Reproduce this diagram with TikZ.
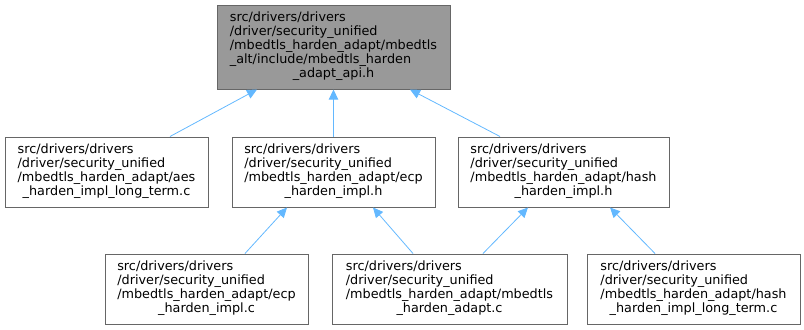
\documentclass[tikz,border=0pt]{standalone}
\usepackage{fontspec}
\setmainfont{DejaVu Sans}
\usetikzlibrary{positioning,arrows.meta,calc}
\definecolor{incblue}{HTML}{63B8FF}
\definecolor{boxgray}{HTML}{666666}
\definecolor{topfill}{HTML}{999999}

\newcommand{\doxlabel}[2]{\begin{tabular}{@{}l@{}}#1\\\multicolumn{1}{@{}c@{}}{#2}\end{tabular}}

\begin{document}
\begin{tikzpicture}[x=0.75pt, y=-0.75pt,
    every node/.style={font=\fontsize{9.6}{10.5}\selectfont},
    filebox/.style={draw=boxgray, line width=0.75pt, inner sep=0pt,
      minimum height=52.5pt},
    incl/.style={draw=incblue, line width=0.6pt,
      -{Triangle[length=7.5pt,width=7pt]}}]
  \useasboundingbox (0,0) rectangle (804,329);

  % header file at the top
  \node[filebox, fill=topfill, minimum width=174.75pt, minimum height=63pt]
    (api) at (333.5,47) {\doxlabel{src/drivers/drivers\\/driver/security\_unified\\/mbedtls\_harden\_adapt/mbedtls\\\_alt/include/mbedtls\_harden}{\_adapt\_api.h}};

  % second row
  \node[filebox, minimum width=152.25pt] (aes) at (106.5,172)
    {\doxlabel{src/drivers/drivers\\/driver/security\_unified\\/mbedtls\_harden\_adapt/aes}{\_harden\_impl\_long\_term.c}};
  \node[filebox, minimum width=152.25pt] (ecph) at (333.5,172)
    {\doxlabel{src/drivers/drivers\\/driver/security\_unified\\/mbedtls\_harden\_adapt/ecp}{\_harden\_impl.h}};
  \node[filebox, minimum width=158.25pt] (hashh) at (563.5,172)
    {\doxlabel{src/drivers/drivers\\/driver/security\_unified\\/mbedtls\_harden\_adapt/hash}{\_harden\_impl.h}};

  % third row
  \node[filebox, minimum width=152.25pt] (ecpc) at (206.5,289)
    {\doxlabel{src/drivers/drivers\\/driver/security\_unified\\/mbedtls\_harden\_adapt/ecp}{\_harden\_impl.c}};
  \node[filebox, minimum width=176.25pt] (adaptc) at (449.5,289)
    {\doxlabel{src/drivers/drivers\\/driver/security\_unified\\/mbedtls\_harden\_adapt/mbedtls}{\_harden\_adapt.c}};
  \node[filebox, minimum width=159.75pt] (hashl) at (693.5,289)
    {\doxlabel{src/drivers/drivers\\/driver/security\_unified\\/mbedtls\_harden\_adapt/hash}{\_harden\_impl\_long\_term.c}};

  \draw[incl] ($(aes.north)+(63.5,0)$) -- ($(api.south)+(-76.5,0)$);
  \draw[incl] (ecph.north) -- (api.south);
  \draw[incl] ($(hashh.north)+(-63.5,0)$) -- ($(api.south)+(76.5,0)$);
  \draw[incl] ($(ecpc.north)+(38.5,0)$) -- ($(ecph.south)+(-46.5,0)$);
  \draw[incl] ($(adaptc.north)+(-36.5,0)$) -- ($(ecph.south)+(39.5,0)$);
  \draw[incl] ($(adaptc.north)+(33.5,0)$) -- ($(hashh.south)+(-35.5,0)$);
  \draw[incl] ($(hashl.north)+(-38.5,0)$) -- ($(hashh.south)+(46.5,0)$);
\end{tikzpicture}
\end{document}
